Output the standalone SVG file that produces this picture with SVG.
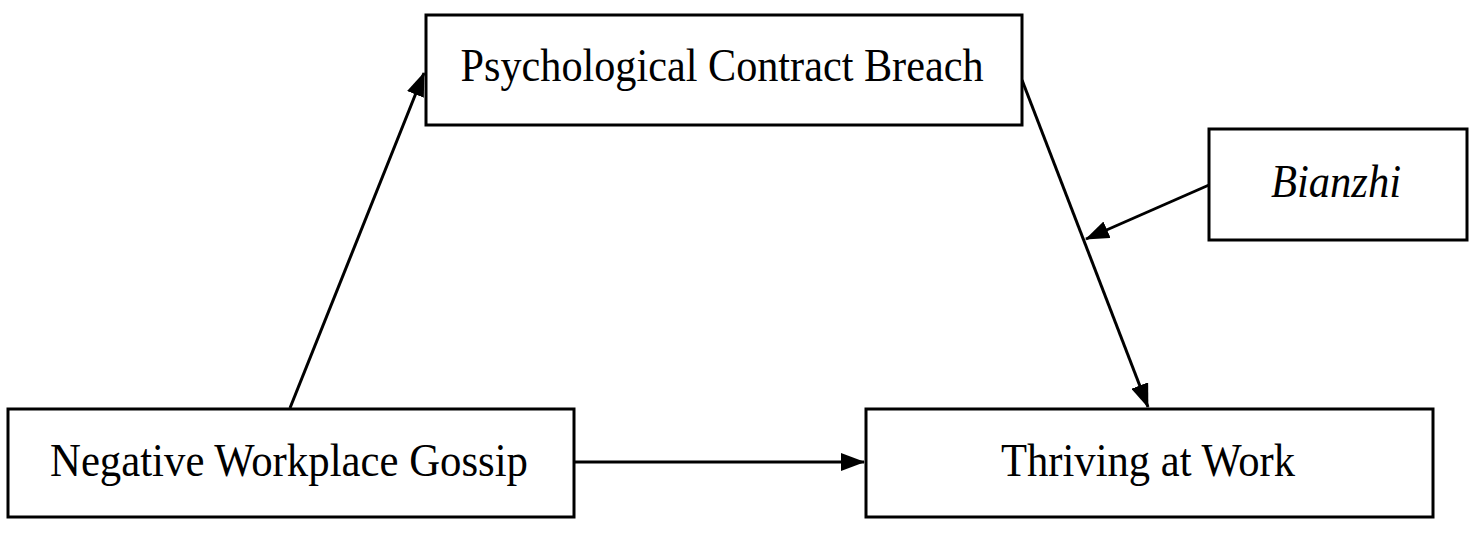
<svg xmlns="http://www.w3.org/2000/svg" width="1477" height="533" viewBox="0 0 1477 533">
<style>
.box{fill:#fff;stroke:#000;stroke-width:3}
.lbl{font-family:"Liberation Serif","Times New Roman",serif;font-size:46px;fill:#000;text-anchor:middle}
.conn{stroke:#000;stroke-width:3;fill:none;marker-end:url(#ah)}
</style>
<defs>
<marker id="ah" markerWidth="24" markerHeight="18" refX="23" refY="9" orient="auto" markerUnits="userSpaceOnUse">
<path d="M0,0 L24,9 L0,18 Z" fill="#000"/>
</marker>
</defs>
<rect width="1477" height="533" fill="#fff"/>
<g id="connectors">
<line class="conn" x1="290" y1="408" x2="424" y2="73"/>
<line class="conn" x1="1022" y1="80" x2="1148" y2="407"/>
<line class="conn" x1="1209" y1="185" x2="1086" y2="239"/>
<line class="conn" x1="575" y1="462" x2="864" y2="462"/>
</g>
<g id="node-pcb">
<rect class="box" x="426" y="15" width="596" height="110"/>
<text class="lbl" x="722" y="81" textLength="523" lengthAdjust="spacingAndGlyphs">Psychological Contract Breach</text>
</g>
<g id="node-bianzhi">
<rect class="box" x="1209" y="129" width="258" height="111"/>
<text class="lbl" x="1336" y="197" font-style="italic" textLength="130" lengthAdjust="spacingAndGlyphs">Bianzhi</text>
</g>
<g id="node-nwg">
<rect class="box" x="8" y="409" width="566" height="108"/>
<text class="lbl" x="289" y="476" textLength="478" lengthAdjust="spacingAndGlyphs">Negative Workplace Gossip</text>
</g>
<g id="node-thriving">
<rect class="box" x="866" y="409" width="567" height="108"/>
<text class="lbl" x="1148" y="476" textLength="294" lengthAdjust="spacingAndGlyphs">Thriving at Work</text>
</g>
</svg>
